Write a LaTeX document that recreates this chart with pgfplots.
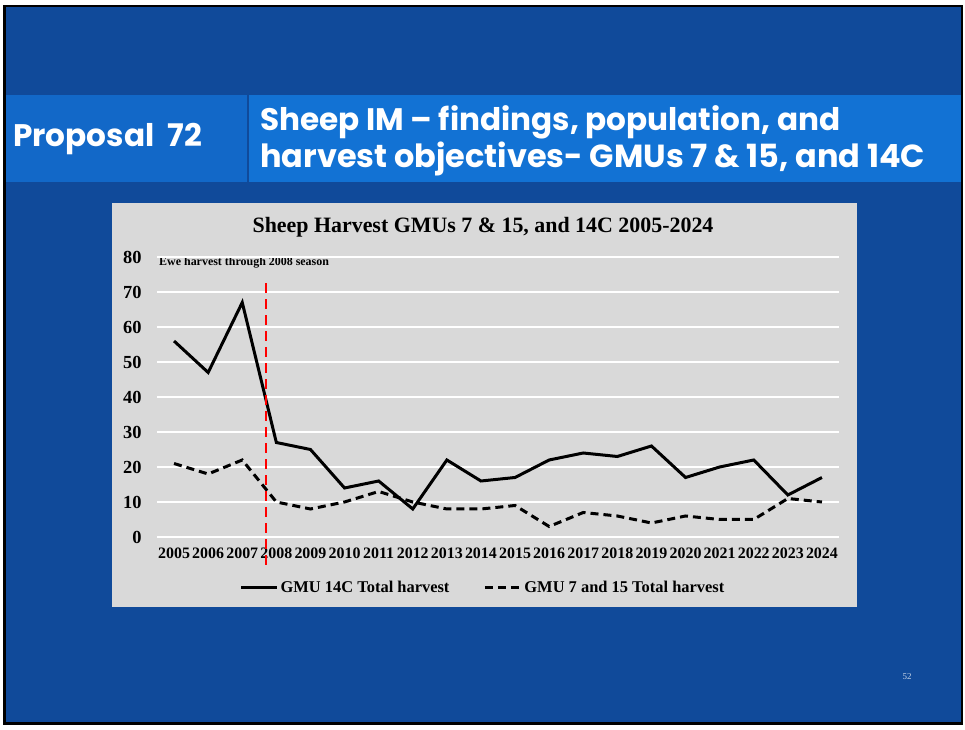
\documentclass[border=0pt]{standalone}
\usepackage{pgfplots}
\pgfplotsset{compat=1.18}
\usepackage{fontspec}
\setmainfont{Liberation Serif}
\newfontfamily\headfont{Poppins}
\definecolor{slidebg}{RGB}{16,74,154}
\definecolor{headL}{RGB}{18,104,200}
\definecolor{headR}{RGB}{18,114,212}
\definecolor{chartbg}{RGB}{217,217,217}
\pgfplotstableread{
year a b
2005 56 21
2006 47 18
2007 67 22
2008 27 10
2009 25 8
2010 14 10
2011 16 13
2012 8 10
2013 22 8
2014 16 8
2015 17 9
2016 22 3
2017 24 7
2018 23 6
2019 26 4
2020 17 6
2021 20 5
2022 22 5
2023 12 11
2024 17 10
}\data
\begin{document}
\begin{tikzpicture}
\begin{scope}[x=1bp,y=1bp]
\path[use as bounding box] (0,0) rectangle (965,730);
\fill[white] (0,0) rectangle (965,730);
\fill[black] (3,5) rectangle (963,725);
\fill[slidebg] (6,8) rectangle (961,723);
\fill[headL] (6,548) rectangle (247,635);
\fill[headR] (249,548) rectangle (961,635);
\node[anchor=west,text=white,inner sep=0] at (13,591) {\resizebox{189bp}{!}{\headfont\bfseries Proposal\ \ 72}};
\node[anchor=west,text=white,inner sep=0] at (260,608) {\resizebox{580bp}{!}{\headfont\bfseries Sheep IM – findings, population, and}};
\node[anchor=west,text=white,inner sep=0] at (260,571) {\resizebox{665bp}{!}{\headfont\bfseries harvest objectives- GMUs 7 \& 15, and 14C}};
\fill[chartbg] (112,123) rectangle (857,527);
\node[text=black] at (483,503) {\fontsize{22}{24}\selectfont\bfseries Sheep Harvest GMUs 7 \& 15, and 14C 2005-2024};
\node[anchor=west,inner sep=0] at (159,467) {\fontsize{12}{14}\selectfont\bfseries Ewe harvest through 2008 season};
\node[text=white!75!slidebg] at (907,53) {\fontsize{9}{10}\selectfont 52};
\end{scope}
\begin{axis}[
  at={(157bp,193bp)}, anchor=south west,
  width=682bp, height=280bp, scale only axis,
  xmin=2004.5, xmax=2024.5, ymin=0, ymax=80,
  axis line style={draw=none},
  tick style={draw=none},
  xtick={2005,2006,...,2024},
  ytick={0,10,...,80},
  ymajorgrids, major grid style={white, line width=1.5bp},
  x tick label style={/pgf/number format/1000 sep={}, font=\fontsize{16}{18}\selectfont\bfseries, yshift=-7bp},
  y tick label style={font=\fontsize{18.5}{20}\selectfont\bfseries, xshift=-12bp},
  /pgf/number format/assume math mode=true,
  clip=false,
  legend columns=2,
  legend style={at={(0.478,-0.18)}, anchor=center, draw=none, fill=none,
    font=\fontsize{16.5}{18}\selectfont\bfseries, /tikz/every even column/.append style={column sep=32bp}},
  legend image code/.code={\draw[#1] (0bp,0bp) -- (36bp,0bp);},
]
\addplot[black, line width=3bp] table[x=year,y=a] {\data};
\addlegendentry{GMU 14C Total harvest}
\addplot[black, line width=3bp, dash pattern=on 8bp off 5bp] table[x=year,y=b] {\data};
\addlegendentry{GMU 7 and 15 Total harvest}
\draw[red, line width=2.5bp, dash pattern=on 10bp off 6bp] (axis cs:2007.7,72.5) -- (axis cs:2007.7,-8);
\end{axis}
\end{tikzpicture}
\end{document}
